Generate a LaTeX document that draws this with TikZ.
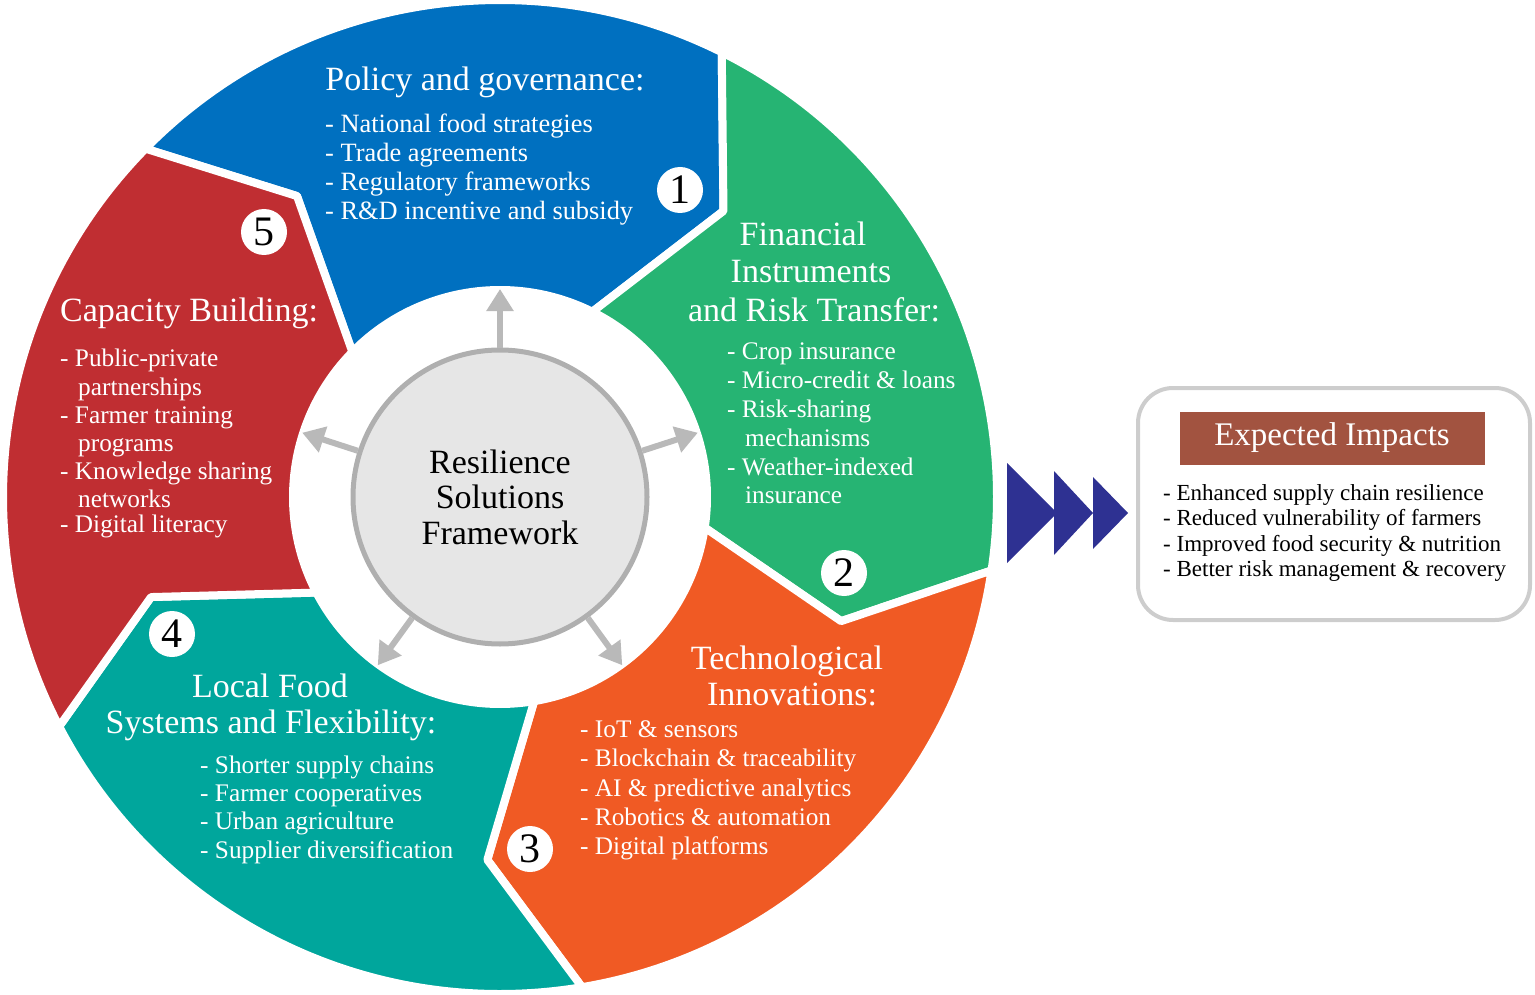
\documentclass[tikz,border=0pt]{standalone}
\usepackage{fontspec}
\setmainfont{Liberation Serif}
\usetikzlibrary{arrows.meta}
\definecolor{cblue}{RGB}{0,112,192}
\definecolor{cgreen}{RGB}{38,180,115}
\definecolor{corange}{RGB}{240,90,36}
\definecolor{cteal}{RGB}{0,166,156}
\definecolor{cred}{RGB}{192,46,50}
\definecolor{cgrayfill}{RGB}{230,230,230}
\definecolor{cgrayline}{RGB}{175,175,175}
\definecolor{carrow}{RGB}{185,185,185}
\definecolor{cnavy}{RGB}{46,49,146}
\definecolor{cbrown}{RGB}{162,83,64}
\definecolor{cboxline}{RGB}{205,205,205}
\newcommand\ringseg[3]{\filldraw[seg, fill=#1] (#2:497pt) arc[start angle=#2, end angle=#3, radius=497pt] -- ({#3-11.5}:363pt) -- (#3:207pt) arc[start angle=#3, end angle=#2, radius=207pt] -- ({#2-11.5}:363pt) -- cycle;}
\begin{document}
\begin{tikzpicture}[x=1pt,y=-1pt,
  seg/.style={draw=white, line width=8pt, line join=round},
  ttl/.style={text=white, font=\fontsize{34}{38}\selectfont, inner sep=0pt, anchor=base},
  itm/.style={text=white, font=\fontsize{25.3}{29}\selectfont, inner sep=0pt, anchor=base west},
  itmb/.style={itm, font=\fontsize{26.4}{29}\selectfont},
  num/.style={circle, fill=white, minimum size=46pt, inner sep=0pt, font=\fontsize{42}{42}\selectfont},
  core/.style={circle, fill=cgrayfill, draw=cgrayline, line width=5pt, minimum size=294pt, inner sep=0pt, align=center, font=\fontsize{34}{35.5}\selectfont},
  garrow/.style={draw=carrow, line width=6pt, -{Triangle[width=26pt,length=22pt]}},
  imp/.style={text=black, font=\fontsize{23}{25}\selectfont, inner sep=0pt, anchor=base west}
]
\useasboundingbox (0,0) rectangle (1535,995);
\begin{scope}[shift={(500,497)}]
  \ringseg{cblue}{135.5}{63.5}
  \ringseg{cgreen}{63.5}{-8.5}
  \ringseg{corange}{-8.5}{-80.5}
  \ringseg{cteal}{-80.5}{-152.5}
  \ringseg{cred}{-152.5}{-224.5}
  \node[core] (core) at (0,0) {Resilience\\Solutions\\Framework};
  \foreach \a [count=\i] in {90,18,306,234,162} {
    \coordinate (tip\i) at (\a:208pt);
    \draw[garrow] (core.\a) -- (tip\i);
  }
\end{scope}

% Segment 1: blue
\node[ttl] (t1) at (485,91) {Policy and governance:};
\node[itmb] (i1a) at (325,133) {- National food strategies};
\node[itmb] (i1b) at (325,162) {- Trade agreements};
\node[itmb] (i1c) at (325,191) {- Regulatory frameworks};
\node[itmb] (i1d) at (325,220) {- R\&D incentive and subsidy};

% Segment 2: green
\node[ttl] (t2a) at (803,246) {Financial};
\node[ttl] (t2b) at (811,283) {Instruments};
\node[ttl] (t2c) at (814,321) {and Risk Transfer:};
\node[itm] (i2a) at (727,359) {- Crop insurance};
\node[itm] (i2b) at (727,388) {- Micro-credit \& loans};
\node[itm] (i2c) at (727,417) {- Risk-sharing};
\node[itm] (i2d) at (745,446) {mechanisms};
\node[itm] (i2e) at (727,475) {- Weather-indexed};
\node[itm] (i2f) at (745,503) {insurance};

% Segment 3: orange
\node[ttl] (t3a) at (787,669) {Technological};
\node[ttl] (t3b) at (792,705) {Innovations:};
\node[itm] (i3a) at (580,737) {- IoT \& sensors};
\node[itm] (i3b) at (580,766) {- Blockchain \& traceability};
\node[itm] (i3c) at (580,796) {- AI \& predictive analytics};
\node[itm] (i3d) at (580,825) {- Robotics \& automation};
\node[itm] (i3e) at (580,854) {- Digital platforms};

% Segment 4: teal
\node[ttl] (t4a) at (270,697) {Local Food};
\node[ttl] (t4b) at (271,733) {Systems and Flexibility:};
\node[itm] (i4a) at (200,773) {- Shorter supply chains};
\node[itm] (i4b) at (200,801) {- Farmer cooperatives};
\node[itm] (i4c) at (200,829) {- Urban agriculture};
\node[itm] (i4d) at (200,858) {- Supplier diversification};

% Segment 5: red
\node[ttl] (t5) at (189,322) {Capacity Building:};
\node[itm] (i5a) at (60,366) {- Public-private};
\node[itm] (i5b) at (78,395) {partnerships};
\node[itm] (i5c) at (60,423) {- Farmer training};
\node[itm] (i5d) at (78,451) {programs};
\node[itm] (i5e) at (60,479) {- Knowledge sharing};
\node[itm] (i5f) at (78,507) {networks};
\node[itm] (i5g) at (60,532) {- Digital literacy};

% numbers
\node[num] (n1) at (680,190) {1};
\node[num] (n2) at (844,573) {2};
\node[num] (n3) at (530,849) {3};
\node[num] (n4) at (172,634) {4};
\node[num] (n5) at (264,232) {5};

% chevrons
\fill[cnavy] (1007,463) -- (1057,513) -- (1007,563) -- cycle;
\fill[cnavy] (1054,471) -- (1093,513) -- (1054,555) -- cycle;
\fill[cnavy] (1093,477) -- (1128,513) -- (1093,549) -- cycle;

% impacts box
\node[draw=cboxline, line width=4pt, rounded corners=35pt, minimum width=392pt, minimum height=232pt, inner sep=0pt] (impbox) at (1334,504) {};
\node[fill=cbrown, text=white, minimum width=305pt, minimum height=53pt, inner sep=0pt, font=\fontsize{33}{36}\selectfont] (imptitle) at (1332,438) {Expected Impacts};
\node[imp] (e1) at (1163,500) {- Enhanced supply chain resilience};
\node[imp] (e2) at (1163,525) {- Reduced vulnerability of farmers};
\node[imp] (e3) at (1163,551) {- Improved food security \& nutrition};
\node[imp] (e4) at (1163,576) {- Better risk management \& recovery};
\end{tikzpicture}
\end{document}
